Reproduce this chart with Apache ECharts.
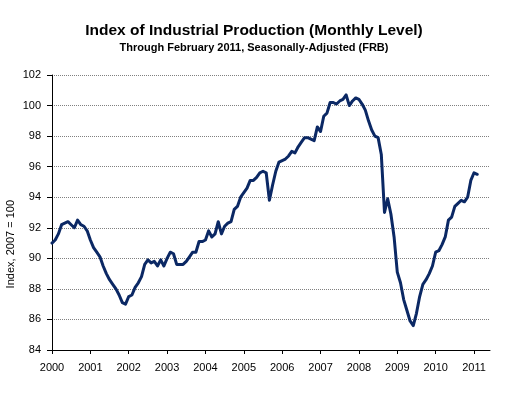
<!DOCTYPE html>
<html>
<head>
<meta charset="utf-8">
<script src="https://cdn.jsdelivr.net/npm/echarts@6/dist/echarts.min.js"></script>
<style>
html,body{margin:0;padding:0;background:#fff;}
#c{width:508px;height:395px;}
</style>
</head>
<body>
<div id="c"></div>
<script>
// Monthly index, Jan 2000 .. Feb 2011 (2007 = 100)
var startYear = 2000;
var yearTicks = ['2000','2001','2002','2003','2004','2005','2006','2007','2008','2009','2010','2011'];
var ip2000 = [91.0, 91.2, 91.6, 92.2, 92.3, 92.4, 92.2, 92.0, 92.5, 92.2, 92.1, 91.8];
var ip2001 = [91.2, 90.7, 90.4, 90.1, 89.5, 89.0, 88.6, 88.3, 88.0, 87.6, 87.1, 87.0];
var ip2002 = [87.5, 87.6, 88.1, 88.4, 88.8, 89.6, 89.9, 89.7, 89.8, 89.5, 89.9, 89.5];
var ip2003 = [90.0, 90.4, 90.3, 89.6, 89.6, 89.6, 89.8, 90.1, 90.4, 90.4, 91.1, 91.1];
var ip2004 = [91.2, 91.8, 91.4, 91.6, 92.4, 91.6, 92.1, 92.3, 92.4, 93.2, 93.4, 94.0];
var ip2005 = [94.3, 94.6, 95.1, 95.1, 95.3, 95.6, 95.7, 95.6, 93.8, 94.8, 95.7, 96.3];
var ip2006 = [96.4, 96.5, 96.7, 97.0, 96.9, 97.3, 97.6, 97.9, 97.9, 97.8, 97.7, 98.6];
var ip2007 = [98.3, 99.3, 99.5, 100.2, 100.2, 100.1, 100.3, 100.4, 100.7, 100.0, 100.3, 100.5];
var ip2008 = [100.4, 100.1, 99.7, 99.0, 98.4, 98.0, 97.9, 96.8, 93.0, 93.9, 92.9, 91.4];
var ip2009 = [89.1, 88.4, 87.3, 86.6, 85.9, 85.6, 86.4, 87.5, 88.3, 88.6, 89.0, 89.5];
var ip2010 = [90.4, 90.5, 90.9, 91.4, 92.5, 92.7, 93.4, 93.6, 93.8, 93.7, 94.0, 95.1];
var ip2011 = [95.6, 95.5];
var yTicks = [84, 86, 88, 90, 92, 94, 96, 98, 100, 102];

var all = [].concat(ip2000, ip2001, ip2002, ip2003, ip2004, ip2005, ip2006, ip2007, ip2008, ip2009, ip2010, ip2011);
var seriesData = all.map(function (v, i) { return [i, v]; });
var tickVals = yearTicks.map(function (y) { return (parseInt(y, 10) - startYear) * 12; });

var chart = echarts.init(document.getElementById('c'), null, {renderer: 'canvas'});
chart.setOption({
  animation: false,
  backgroundColor: '#ffffff',
  title: [
    {text: 'Index of Industrial Production (Monthly Level)', left: 'center', top: 18,
     textStyle: {fontFamily: 'Liberation Sans, Arial, sans-serif', fontSize: 15.5, fontWeight: 'bold', color: '#000'}},
    {text: 'Through February 2011, Seasonally-Adjusted (FRB)', left: 'center', top: 37,
     textStyle: {fontFamily: 'Liberation Sans, Arial, sans-serif', fontSize: 11, fontWeight: 'bold', color: '#000'}}
  ],
  graphic: [{
    type: 'text', left: 5, top: 200, rotation: Math.PI / 2,
    style: {text: 'Index, 2007 = 100', fontFamily: 'Liberation Sans, Arial, sans-serif', fontSize: 11, fill: '#000'}
  }],
  grid: {left: 52, right: 18, top: 75, bottom: 45, containLabel: false},
  xAxis: {
    type: 'value', min: 0, max: 137,
    axisLine: {show: true, lineStyle: {color: '#000', width: 1}},
    axisTick: {show: true, length: 4, customValues: tickVals, lineStyle: {color: '#000'}},
    axisLabel: {customValues: tickVals, margin: 12, fontFamily: 'Liberation Sans, Arial, sans-serif', fontSize: 11, color: '#000',
      formatter: function (v) { return String(startYear + Math.round(v / 12)); }},
    splitLine: {show: false}
  },
  yAxis: {
    type: 'value', min: yTicks[0], max: yTicks[yTicks.length - 1], interval: 2,
    axisLine: {show: true, lineStyle: {color: '#000', width: 1}},
    axisTick: {show: true, length: 5, lineStyle: {color: '#000'}},
    axisLabel: {margin: 11, fontFamily: 'Liberation Sans, Arial, sans-serif', fontSize: 11, color: '#000'},
    splitLine: {show: true, lineStyle: {color: '#808080', type: 'dotted', width: 1}}
  },
  series: [{
    type: 'line', data: seriesData, showSymbol: false, symbol: 'none',
    lineStyle: {color: '#0b2864', width: 3, join: 'round', cap: 'round'},
    z: 5
  }]
});
</script>
</body>
</html>
